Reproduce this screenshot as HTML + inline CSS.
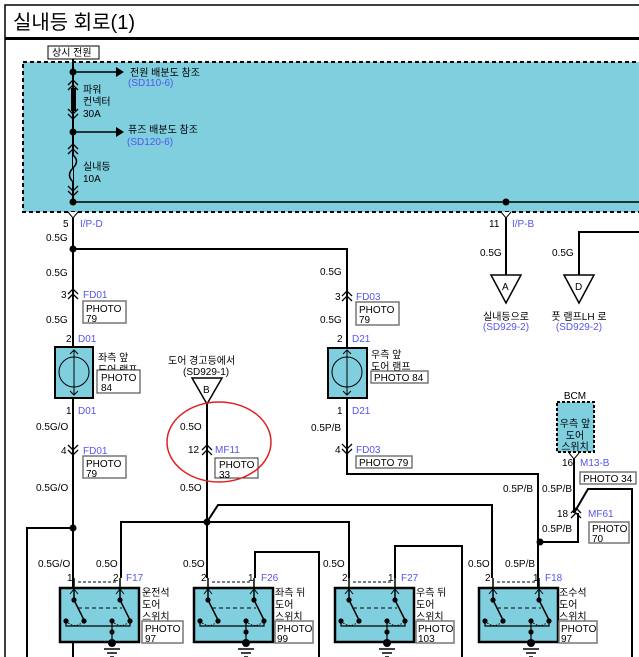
<!DOCTYPE html>
<html><head><meta charset="utf-8"><style>
body{margin:0;background:#fff;}
svg{display:block;font-family:"Liberation Sans","Noto Sans CJK KR",sans-serif;}
.t{font-size:10px;fill:#000;}
.b{font-size:10px;fill:#5555ee;}
.w{stroke:#000;stroke-width:2;fill:none;}
</style></head><body>
<svg width="639" height="657" viewBox="0 0 639 657">
<defs>
<g id="sw">
<rect x="-14" y="588" width="79" height="54" fill="#7fcfdf" stroke="#000" stroke-width="2.5"/>
<path d="M0 578V600M46 578V600" stroke="#000" stroke-width="1.5"/>
<path d="M-4 594L0 589L4 594M42 594L46 589L50 594" fill="none" stroke="#000"/>
<path d="M0 600L10 620M46 600L56 620" stroke="#000" stroke-width="1.5"/>
<path d="M4 608H48" stroke="#000" stroke-dasharray="4,3"/>
<path d="M-8 621Q1 630 10 621M38 621Q47 630 56 621" fill="none" stroke="#000" stroke-dasharray="1.5,1.5"/>
<path d="M-8 621V626H56V621M38 621V642" fill="none" stroke="#000" stroke-width="1.2"/>
<circle cx="0" cy="600" r="2.6"/><circle cx="46" cy="600" r="2.6"/>
<circle cx="-8" cy="621" r="2.6"/><circle cx="10" cy="621" r="2.6"/>
<circle cx="38" cy="621" r="2.6"/><circle cx="56" cy="621" r="2.6"/>
<circle cx="38" cy="632" r="2.6"/><circle cx="38" cy="643" r="4"/>
<path d="M30 649H46M33 653H43M36 657H40" stroke="#000" stroke-width="1.5"/>
<path d="M4 582H42" stroke="#000" stroke-dasharray="3,2"/>
</g>
<g id="chd"><path d="M-5 -4L0 1L5 -4M-5 1L0 6L5 1" fill="none" stroke="#000" stroke-width="1.3"/></g>
<g id="chu"><path d="M-5 4L0 -1L5 4M-5 -1L0 -6L5 -1" fill="none" stroke="#000" stroke-width="1.3"/></g>
</defs>
<!-- frame -->
<path d="M5 657V5H639" stroke="#000" stroke-width="1.5" fill="none"/>
<rect x="5" y="37" width="634" height="3" fill="#000"/>
<text x="13" y="29" style="font-size:20px">실내등 회로(1)</text>
<!-- blue box -->
<rect x="23" y="62" width="630" height="150" fill="#7fcfdf" stroke="#000" stroke-width="2" stroke-dasharray="4,3"/>
<rect x="48" y="46" width="51" height="13" fill="#fff" stroke="#000"/>
<text class="t" x="52" y="56">상시 전원</text>
<path class="w" d="M73 59V204"/>
<circle cx="73" cy="72" r="3.5"/><path d="M73 72H117" stroke="#000" stroke-width="1.5"/><path d="M116 67L124 72L116 77Z"/>
<text class="t" x="130" y="76">전원 배분도 참조</text><text class="b" x="128" y="86">(SD110-6)</text>
<use href="#chu" x="73" y="86"/><rect x="71" y="88" width="5" height="23" fill="#000"/><use href="#chd" x="73" y="113"/>
<text class="t" x="83" y="93">파워</text><text class="t" x="83" y="105">컨넥터</text><text class="t" x="83" y="117">30A</text>
<circle cx="73" cy="132" r="3.5"/><path d="M73 132H117" stroke="#000" stroke-width="1.5"/><path d="M116 127L124 132L116 137Z"/>
<text class="t" x="128" y="133">퓨즈 배분도 참조</text><text class="b" x="127" y="145">(SD120-6)</text>
<use href="#chu" x="73" y="150"/>
<path d="M73 155Q80 161 73 168Q66 175 73 182" fill="#7fcfdf" stroke="#000" stroke-width="1.5"/>
<rect x="71" y="155" width="4" height="28" fill="#7fcfdf" opacity="0"/>
<use href="#chd" x="73" y="190"/>
<text class="t" x="83" y="170">실내등</text><text class="t" x="83" y="182">10A</text>
<circle cx="73" cy="202" r="3.5"/><path d="M73 202H639" stroke="#000" stroke-width="1.5"/>
<circle cx="506" cy="202" r="3.5"/>
<path d="M68 212L73 218L78 212" fill="#fff" stroke="#000"/><path d="M501 212L506 218L511 212" fill="#fff" stroke="#000"/>
<text class="t" x="63" y="227">5</text><text class="b" x="80" y="227">I/P-D</text>
<text class="t" x="489" y="227">11</text><text class="b" x="512" y="227">I/P-B</text>
<!-- left branch -->
<path class="w" d="M73 218V347M73 398V657"/>
<circle cx="73" cy="249" r="3.5"/><path class="w" d="M73 249H347V348M347 398V474H538V589"/>
<text class="t" x="46" y="241">0.5G</text><text class="t" x="46" y="276">0.5G</text><text class="t" x="46" y="323">0.5G</text>
<use href="#chu" x="73" y="295"/><text class="t" x="61" y="298">3</text><text class="b" x="83" y="298">FD01</text>
<rect x="83" y="301" width="43" height="22" fill="#fff" stroke="#777" stroke-width="1.5"/><text class="t" x="86" y="312">PHOTO</text><text class="t" x="86" y="322">79</text>
<text class="t" x="66" y="342">2</text><text class="b" x="78" y="342">D01</text>
<rect x="55" y="347" width="38" height="51" fill="#7fcfdf" stroke="#000" stroke-width="2"/>
<circle cx="74" cy="372" r="15" fill="none" stroke="#000"/><path d="M74 350V395M70 354L74 350L78 354M70 391L74 395L78 391" fill="none" stroke="#000"/>
<text class="t" x="98" y="361">좌측 앞</text><text class="t" x="98" y="373">도어 램프</text>
<rect x="97" y="370" width="43" height="23" fill="#fff" stroke="#333"/><text class="t" x="101" y="381">PHOTO</text><text class="t" x="101" y="391">84</text>
<text class="t" x="66" y="414">1</text><text class="b" x="78" y="414">D01</text>
<text class="t" x="36" y="430">0.5G/O</text>
<use href="#chd" x="73" y="449"/><text class="t" x="61" y="454">4</text><text class="b" x="83" y="454">FD01</text>
<rect x="83" y="456" width="43" height="22" fill="#fff" stroke="#777" stroke-width="1.5"/><text class="t" x="86" y="467">PHOTO</text><text class="t" x="86" y="477">79</text>
<text class="t" x="36" y="491">0.5G/O</text>
<circle cx="73" cy="528" r="3.5"/><path class="w" d="M73 528H27V657"/>
<!-- MF11 -->
<text class="t" x="168" y="364">도어 경고등에서</text><text class="t" x="183" y="375">(SD929-1)</text>
<path d="M192 378H222L207 404Z" fill="#fff" stroke="#000" stroke-width="1.5"/><text class="t" x="203" y="393">B</text>
<path class="w" d="M207 404V522M207 522H121V578M207 522H349V578M207 522V578M207 522L218 505H492V578"/>
<circle cx="207" cy="522" r="3.5"/>
<text class="t" x="180" y="430">0.5O</text><text class="t" x="180" y="491">0.5O</text>
<use href="#chu" x="207" y="451"/><text class="t" x="188" y="453">12</text><text class="b" x="215" y="453">MF11</text>
<rect x="215" y="458" width="43" height="20" fill="#fff" stroke="#333"/><text class="t" x="219" y="468">PHOTO</text><text class="t" x="219" y="478">33</text>
<ellipse cx="219" cy="442" rx="52" ry="40" fill="none" stroke="#e02020" stroke-width="1.5"/>
<!-- right lamp -->
<text class="t" x="320" y="275">0.5G</text><text class="t" x="320" y="323">0.5G</text>
<use href="#chu" x="347" y="297"/><text class="t" x="335" y="300">3</text><text class="b" x="356" y="300">FD03</text>
<rect x="356" y="302" width="43" height="23" fill="#fff" stroke="#777" stroke-width="1.5"/><text class="t" x="359" y="313">PHOTO</text><text class="t" x="359" y="323">79</text>
<text class="t" x="337" y="342">2</text><text class="b" x="352" y="342">D21</text>
<rect x="328" y="348" width="39" height="50" fill="#7fcfdf" stroke="#000" stroke-width="2"/>
<circle cx="347" cy="372" r="15" fill="none" stroke="#000"/><path d="M347 350V395M343 354L347 350L351 354M343 391L347 395L351 391" fill="none" stroke="#000"/>
<text class="t" x="371" y="358">우측 앞</text><text class="t" x="371" y="370">도어 램프</text>
<rect x="371" y="371" width="57" height="12" fill="#fff" stroke="#777" stroke-width="1.5"/><text class="t" x="374" y="381">PHOTO 84</text>
<text class="t" x="337" y="414">1</text><text class="b" x="352" y="414">D21</text>
<text class="t" x="311" y="431">0.5P/B</text>
<use href="#chd" x="347" y="448"/><text class="t" x="335" y="453">4</text><text class="b" x="356" y="453">FD03</text>
<rect x="356" y="456" width="56" height="12" fill="#fff" stroke="#777" stroke-width="1.5"/><text class="t" x="359" y="466">PHOTO 79</text>
<!-- A / D -->
<path class="w" d="M506 218V275M579 275V232H639"/>
<text class="t" x="480" y="256">0.5G</text><text class="t" x="552" y="256">0.5G</text>
<path d="M491 275H521L506 303Z" fill="#fff" stroke="#000" stroke-width="1.5"/><text class="t" x="502" y="290">A</text>
<path d="M564 275H594L579 303Z" fill="#fff" stroke="#000" stroke-width="1.5"/><text class="t" x="575" y="290">D</text>
<text class="t" x="506" y="320" text-anchor="middle">실내등으로</text><text class="b" x="506" y="330" text-anchor="middle">(SD929-2)</text>
<text class="t" x="579" y="320" text-anchor="middle">풋 램프LH 로</text><text class="b" x="579" y="330" text-anchor="middle">(SD929-2)</text>
<!-- BCM -->
<text class="t" x="575" y="399" text-anchor="middle">BCM</text>
<rect x="557" y="402" width="37" height="50" fill="#7fcfdf" stroke="#000" stroke-width="2" stroke-dasharray="3,2"/>
<text class="t" x="575" y="427" text-anchor="middle">우측 앞</text><text class="t" x="575" y="439" text-anchor="middle">도어</text><text class="t" x="575" y="450" text-anchor="middle">스위치</text>
<path d="M569 453L574 459L579 453" fill="#fff" stroke="#000"/>
<text class="t" x="562" y="466">16</text><text class="b" x="580" y="466">M13-B</text>
<rect x="580" y="472" width="56" height="12" fill="#fff" stroke="#777" stroke-width="1.5"/><text class="t" x="583" y="482">PHOTO 34</text>
<path class="w" d="M574 459V513M578 513V542H540M574 513L588 489H632V657"/>
<circle cx="540" cy="542" r="3.5"/>
<use href="#chu" x="576" y="514"/><text class="t" x="557" y="517">18</text><text class="b" x="588" y="517">MF61</text>
<rect x="589" y="522" width="40" height="21" fill="#fff" stroke="#777" stroke-width="1.5"/><text class="t" x="592" y="532">PHOTO</text><text class="t" x="592" y="542">70</text>
<text class="t" x="503" y="492">0.5P/B</text><text class="t" x="542" y="492">0.5P/B</text><text class="t" x="542" y="532">0.5P/B</text>
<!-- switch wires -->
<path class="w" d="M255 578V552H319V657M395 578V546H462V657"/>
<text class="t" x="38" y="567">0.5G/O</text><text class="t" x="96" y="567">0.5O</text><text class="t" x="183" y="567">0.5O</text>
<text class="t" x="323" y="567">0.5O</text><text class="t" x="468" y="567">0.5O</text><text class="t" x="505" y="567">0.5P/B</text>
<use href="#sw" x="74"/><use href="#sw" x="208"/><use href="#sw" x="349"/><use href="#sw" x="493"/>
<text class="t" x="67" y="581">1</text><text class="t" x="113" y="581">2</text><text class="b" x="126" y="581">F17</text>
<text class="t" x="201" y="581">2</text><text class="t" x="248" y="581">1</text><text class="b" x="261" y="581">F26</text>
<text class="t" x="342" y="581">2</text><text class="t" x="388" y="581">1</text><text class="b" x="401" y="581">F27</text>
<text class="t" x="485" y="581">2</text><text class="t" x="533" y="581">1</text><text class="b" x="545" y="581">F18</text>
<g class="t">
<text x="142" y="596">운전석</text><text x="142" y="608">도어</text><text x="142" y="620">스위치</text>
<text x="275" y="596">좌측 뒤</text><text x="275" y="608">도어</text><text x="275" y="620">스위치</text>
<text x="416" y="596">우측 뒤</text><text x="416" y="608">도어</text><text x="416" y="620">스위치</text>
<text x="559" y="596">조수석</text><text x="559" y="608">도어</text><text x="559" y="620">스위치</text>
</g>
<g fill="#fff" stroke="#777" stroke-width="1.5">
<rect x="142" y="621" width="41" height="22"/><rect x="275" y="621" width="38" height="22"/><rect x="416" y="621" width="38" height="22"/><rect x="559" y="621" width="38" height="22"/>
</g>
<text class="t" x="145" y="632">PHOTO</text><text class="t" x="145" y="642">97</text>
<text class="t" x="277" y="632">PHOTO</text><text class="t" x="277" y="642">99</text>
<text class="t" x="418" y="632">PHOTO</text><text class="t" x="418" y="642">103</text>
<text class="t" x="561" y="632">PHOTO</text><text class="t" x="561" y="642">97</text>
</svg>
</body></html>
